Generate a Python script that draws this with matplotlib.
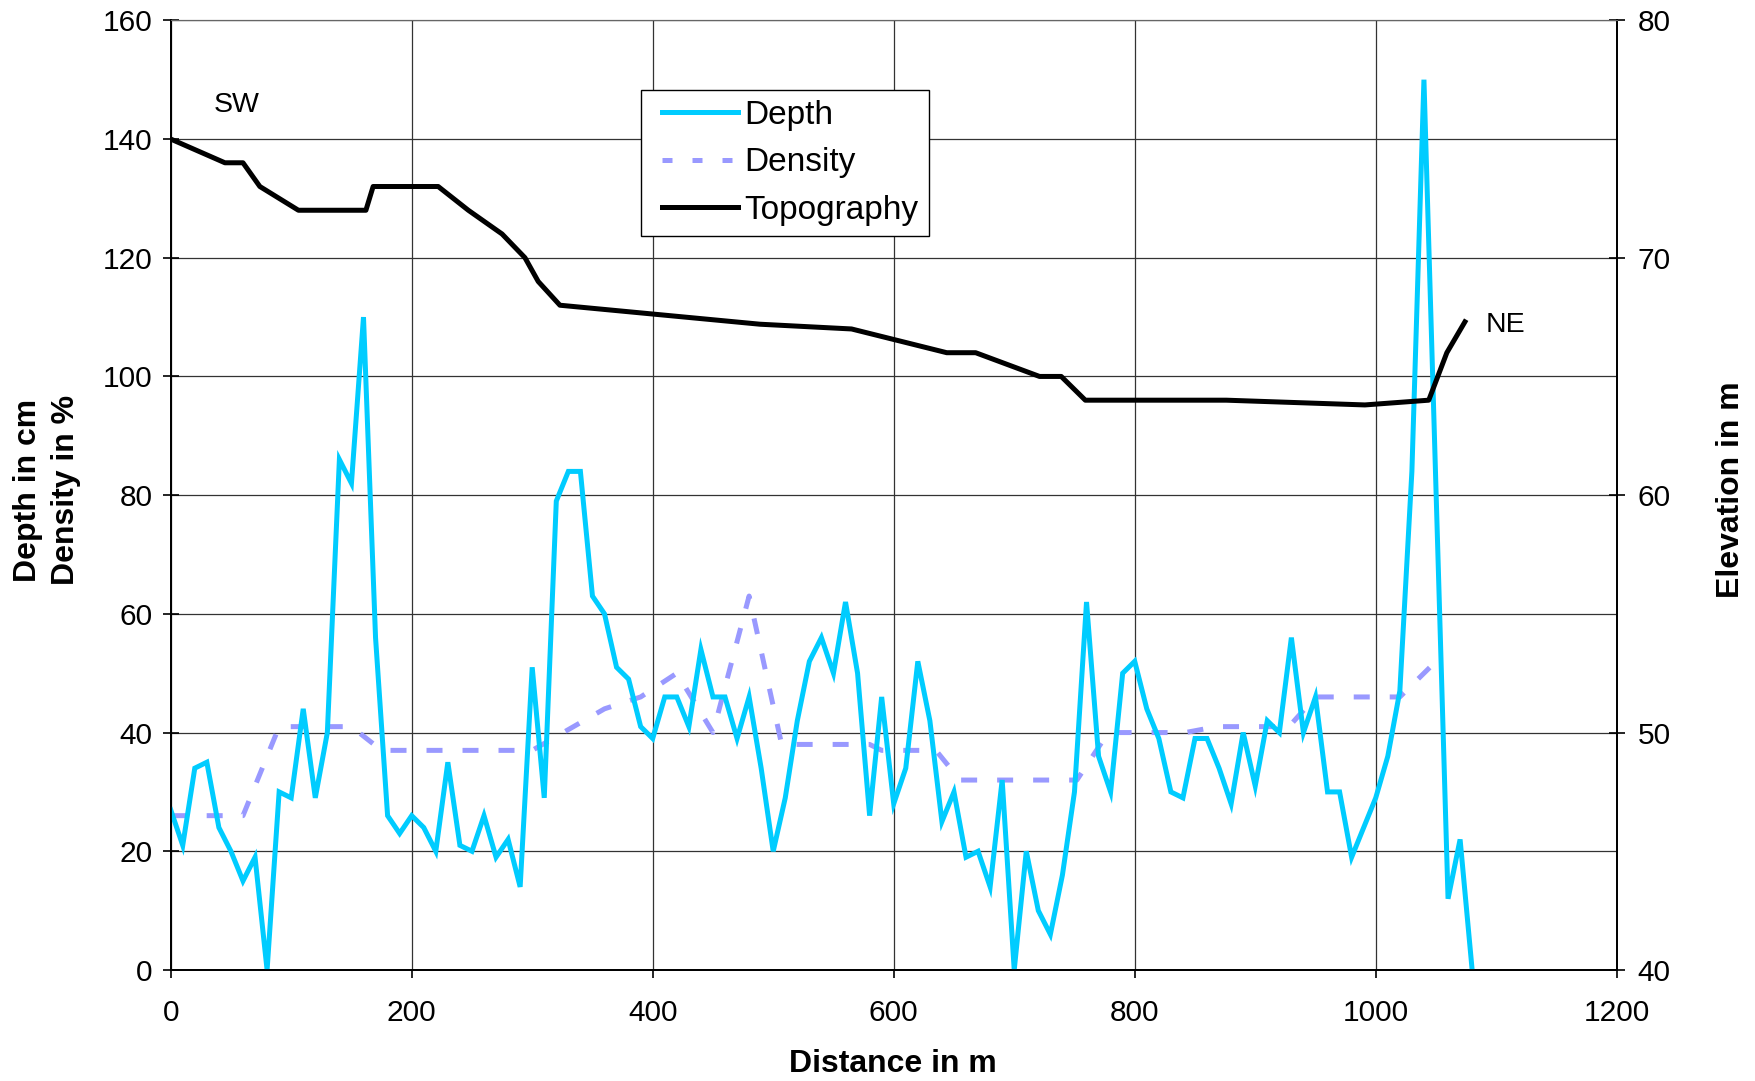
import matplotlib
matplotlib.use("Agg")
import numpy as np
import matplotlib.pyplot as plt
from matplotlib.lines import Line2D
from matplotlib.legend_handler import HandlerLine2D

plt.rcParams['font.family'] = ['Liberation Sans', 'DejaVu Sans']

# ---------------- data ----------------
depth_dist = [0, 10, 20, 30, 40, 50, 60, 70, 80, 90, 100, 110, 120, 130, 140, 150, 160, 170, 180, 190,
              200, 210, 220, 230, 240, 250, 260, 270, 280, 290, 300, 310, 320, 330, 340, 350, 360, 370, 380, 390,
              400, 410, 420, 430, 440, 450, 460, 470, 480, 490, 500, 510, 520, 530, 540, 550, 560, 570, 580, 590,
              600, 610, 620, 630, 640, 650, 660, 670, 680, 690, 700, 710, 720, 730, 740, 750, 760, 770, 780, 790,
              800, 810, 820, 830, 840, 850, 860, 870, 880, 890, 900, 910, 920, 930, 940, 950, 960, 970, 980, 990,
              1000, 1010, 1020, 1030, 1040, 1050, 1060, 1070, 1080]
depth_cm = [27, 21, 34, 35, 24, 20, 15, 19, 0, 30, 29, 44, 29, 40, 86, 82, 110, 56, 26, 23,
            26, 24, 20, 35, 21, 20, 26, 19, 22, 14, 51, 29, 79, 84, 84, 63, 60, 51, 49, 41,
            39, 46, 46, 41, 54, 46, 46, 39, 46, 34, 20, 29, 42, 52, 56, 50, 62, 50, 26, 46,
            28, 34, 52, 42, 25, 30, 19, 20, 14, 32, 0, 20, 10, 6, 16, 30, 62, 36, 30, 50,
            52, 44, 39, 30, 29, 39, 39, 34, 28, 40, 31, 42, 40, 56, 40, 46, 30, 30, 19, 24,
            29, 36, 47, 84, 150, 81, 12, 22, 0]

density_dist = [0, 60, 90, 150, 175, 300, 360, 390, 420, 450, 480, 507, 580, 590, 635, 655,
                752, 778, 842, 868, 928, 950, 1020, 1045]
density_pct = [26, 26, 41, 41, 37, 37, 44, 46, 50, 40, 63, 38, 38, 37, 37, 32,
               32, 40, 40, 41, 41, 46, 46, 51]

topo_dist = [0, 45, 60, 74, 106, 162, 168, 222, 247, 275, 294, 305, 323, 489, 565, 644, 668,
             721, 739, 759, 876, 991, 1044, 1059, 1074]
topo_elev = [75, 74, 74, 73, 72, 72, 73, 73, 72, 71, 70, 69, 68, 67.2, 67, 66, 66,
             65, 65, 64, 64, 63.8, 64, 66, 67.3]

x_ticks = [0, 200, 400, 600, 800, 1000, 1200]
left_ticks = [0, 20, 40, 60, 80, 100, 120, 140, 160]
right_ticks = [40, 50, 60, 70, 80]


class ShiftedLineHandler(HandlerLine2D):
    """Line handle that starts a little to the right of the handle box."""
    def __init__(self, shift_pts=8.0, **kw):
        super().__init__(**kw)
        self.shift_pts = shift_pts

    def create_artists(self, legend, orig_handle, xdescent, ydescent, width,
                       height, fontsize, trans):
        arts = super().create_artists(legend, orig_handle, xdescent, ydescent,
                                      width, height, fontsize, trans)
        for a in arts:
            if isinstance(a, Line2D):
                xd = np.asarray(a.get_xdata(), dtype=float)
                if xd.size >= 2:
                    a.set_xdata(np.linspace(xd[0] + self.shift_pts, xd[-1], xd.size))
        return arts


# ---------------- figure ----------------
fig = plt.figure(figsize=(17.56, 10.81), dpi=100)
ax = fig.add_axes([0.0972, 0.1027, 0.8235, 0.8785])
ax2 = ax.twinx()

depth_color = '#00CCFF'
density_color = '#9999FF'

ax.plot(depth_dist, depth_cm, color=depth_color, lw=3.6, solid_joinstyle='miter', zorder=3)
ax.plot(density_dist, density_pct, color=density_color, lw=3.6, dashes=(3.2, 4.0),
        dash_capstyle='butt', zorder=2)
ax2.plot(topo_dist, topo_elev, color='black', lw=3.6, zorder=3)

ax.set_xlim(0, 1200)
ax.set_ylim(0, 160)
ax2.set_ylim(40, 80)
ax.set_xticks(x_ticks)
ax.set_yticks(left_ticks)
ax2.set_yticks(right_ticks)

ax.grid(True, color='#333333', lw=0.9)
ax.set_axisbelow(True)

for s in ['left', 'bottom', 'right']:
    ax.spines[s].set_color('black')
    ax.spines[s].set_linewidth(1.3)
    ax2.spines[s].set_color('black')
    ax2.spines[s].set_linewidth(1.3)
ax.spines['top'].set_color('#666666')
ax2.spines['top'].set_color('#666666')

ax.tick_params(axis='x', direction='out', length=6, width=1.2, labelsize=21.5, pad=15)
ax.tick_params(axis='y', direction='inout', length=12, width=1.2, labelsize=21.5, pad=7)
ax2.tick_params(axis='y', direction='inout', length=12, width=1.2, labelsize=21.5, pad=9)

ax.text(36, 145.8, 'SW', fontsize=20.5, va='center', ha='left')
ax.text(1091, 108.7, 'NE', fontsize=20.5, va='center', ha='left')

fig.text(0.0267, 0.5467, 'Depth in cm\nDensity in %', rotation=90, fontsize=23,
         fontweight='bold', ha='center', va='center', multialignment='center', linespacing=1.33)
fig.text(0.986, 0.5467, 'Elevation in m', rotation=90, fontsize=23,
         fontweight='bold', ha='center', va='center')
fig.text(0.5083, 0.0157, 'Distance in m', fontsize=23, fontweight='bold',
         ha='center', va='center')

h_depth = Line2D([], [], color=depth_color, lw=3.6)
h_dens = Line2D([], [], color=density_color, lw=3.6, dashes=(2.0, 4.0), dash_capstyle='butt')
h_topo = Line2D([], [], color='black', lw=3.6)
handler = ShiftedLineHandler(shift_pts=8.0)
leg = ax.legend([h_depth, h_dens, h_topo], ['Depth', 'Density', 'Topography'], loc='upper left',
                bbox_to_anchor=(0.3252, 0.9266), borderaxespad=0, fontsize=24,
                handlelength=2.61, handletextpad=0.2, labelspacing=0.49,
                fancybox=False, framealpha=1, edgecolor='black', borderpad=0.3,
                handler_map={h_depth: handler, h_dens: handler, h_topo: handler})
leg.get_frame().set_linewidth(1.0)
leg.set_zorder(10)

fig.savefig('out.png', dpi=100)
